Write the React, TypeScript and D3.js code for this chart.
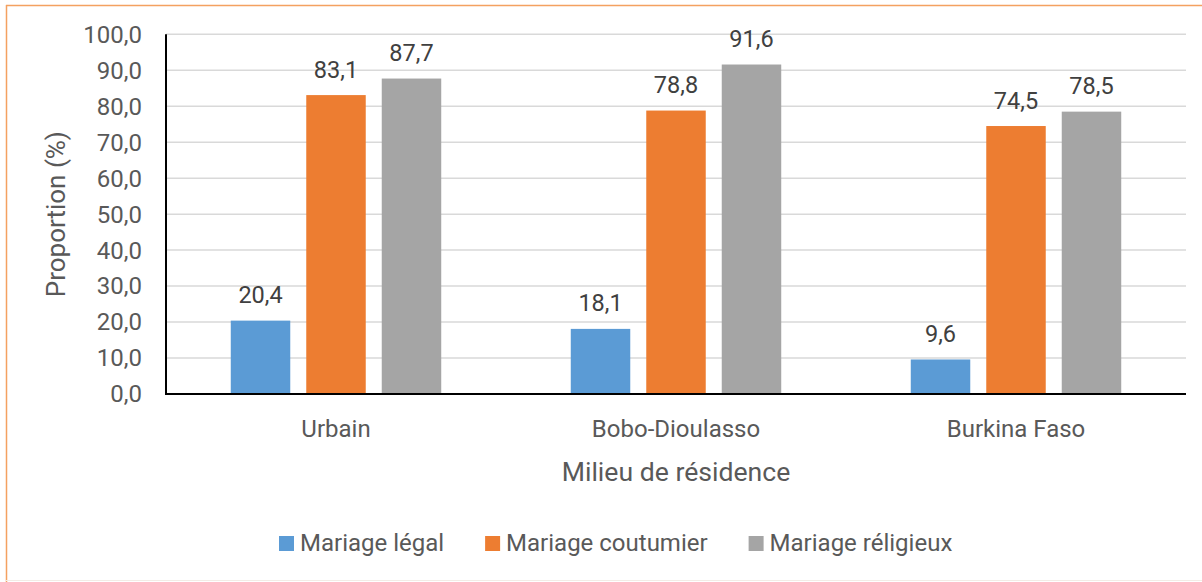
import React from "react"
import { scaleBand, scaleLinear, range } from "d3"

const categories = ["Urbain", "Bobo-Dioulasso", "Burkina Faso"]
const seriesNames = ["Mariage légal", "Mariage coutumier", "Mariage réligieux"]
const seriesColors = ["#5B9BD5", "#ED7D31", "#A5A5A5"]
const legal = [20.4, 18.1, 9.6]
const coutumier = [83.1, 78.8, 74.5]
const religieux = [87.7, 91.6, 78.5]
const yTicks = range(0, 101, 10)

const values = [legal, coutumier, religieux]
const fmt = (v: number) => v.toFixed(1).replace(".", ",")

const font = "Roboto, 'Noto Sans', sans-serif"

const measure = (text: string, size: number) => {
  const ctx = document.createElement("canvas").getContext("2d")
  if (!ctx) return text.length * size * 0.46
  ctx.font = `${size}px Roboto`
  return ctx.measureText(text).width
}

const App = () => {
  const width = 1202
  const height = 582
  const margin = { top: 34.3, right: 16, bottom: 188, left: 166 }
  const innerBottom = height - margin.bottom
  const innerRight = width - margin.right

  const xScale = scaleBand()
    .domain(categories)
    .range([margin.left, innerRight])
    .paddingInner(0.381)
    .paddingOuter(0.1905)

  const xInner = scaleBand()
    .domain(seriesNames)
    .range([0, xScale.bandwidth()])
    .paddingInner(0.212)

  const yScale = scaleLinear().domain([0, 100]).range([innerBottom, margin.top])

  // legend layout
  const legendSize = 24
  let lx = 279
  const legendItems = seriesNames.map((name, i) => {
    const item = { name, color: seriesColors[i], x: lx }
    lx += 15 + 6 + measure(name, legendSize) + 41
    return item
  })

  return (
    <svg
      width={width}
      height={height}
      style={{ position: "absolute", left: 0, top: 0, fontFamily: font }}
    >
      <rect x={0} y={0} width={width} height={height} fill="#fff" />
      <line x1={6} x2={width} y1={5.5} y2={5.5} stroke="#F4A160" strokeWidth={1.5} />
      <line x1={6.5} x2={6.5} y1={5} y2={height} stroke="#F4A160" strokeWidth={1.5} />
      <line x1={6} x2={width} y1={580.5} y2={580.5} stroke="#F3ECE6" strokeWidth={1} />

      {yTicks.map((t) => (
        <g key={t}>
          {t > 0 && (
            <line
              x1={margin.left}
              x2={innerRight}
              y1={yScale(t)}
              y2={yScale(t)}
              stroke="#D9D9D9"
              strokeWidth={1.5}
            />
          )}
          <text
            x={142}
            y={yScale(t)}
            dy="0.35em"
            textAnchor="end"
            fontSize={24}
            fill="#595959"
          >
            {fmt(t)}
          </text>
        </g>
      ))}

      {categories.map((c, ci) => (
        <g key={c} transform={`translate(${xScale(c)}, 0)`}>
          {seriesNames.map((s, si) => {
            const v = values[si][ci]
            const x = xInner(s) as number
            return (
              <g key={s}>
                <rect
                  x={x}
                  y={yScale(v)}
                  width={xInner.bandwidth()}
                  height={innerBottom - yScale(v)}
                  fill={seriesColors[si]}
                />
                <text
                  x={x + xInner.bandwidth() / 2}
                  y={yScale(v) - 17.5}
                  textAnchor="middle"
                  fontSize={23.5}
                  fill="#404040"
                >
                  {fmt(v)}
                </text>
              </g>
            )
          })}
          <text
            x={xScale.bandwidth() / 2}
            y={437}
            textAnchor="middle"
            fontSize={24}
            fill="#595959"
          >
            {c}
          </text>
        </g>
      ))}

      <line
        x1={margin.left}
        x2={margin.left}
        y1={margin.top}
        y2={innerBottom + 1}
        stroke="#000"
        strokeWidth={2}
      />
      <line
        x1={margin.left - 1}
        x2={innerRight}
        y1={innerBottom}
        y2={innerBottom}
        stroke="#000"
        strokeWidth={2}
      />

      <text
        x={(margin.left + innerRight) / 2}
        y={481}
        textAnchor="middle"
        fontSize={26.6}
        fill="#595959"
      >
        Milieu de résidence
      </text>
      <text
        transform={`translate(65, ${(margin.top + innerBottom) / 2}) rotate(-90)`}
        textAnchor="middle"
        fontSize={26}
        fill="#595959"
      >
        Proportion (%)
      </text>

      {legendItems.map((d) => (
        <g key={d.name}>
          <rect x={d.x} y={536} width={15} height={15} fill={d.color} />
          <text x={d.x + 21} y={551} fontSize={legendSize} fill="#595959">
            {d.name}
          </text>
        </g>
      ))}
    </svg>
  )
}

export default App
